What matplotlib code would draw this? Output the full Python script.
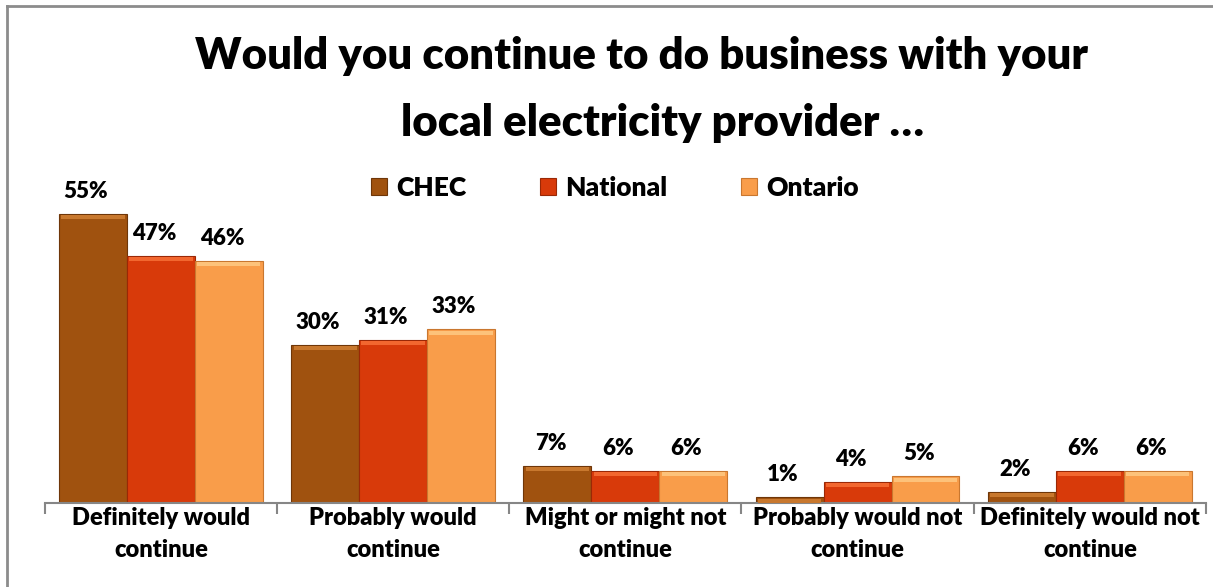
import numpy as np
import matplotlib
matplotlib.use("Agg")
import matplotlib.pyplot as plt
from matplotlib.patches import Rectangle
from matplotlib.lines import Line2D

plt.rcParams["font.family"] = ["Lato", "DejaVu Sans"]
plt.rcParams["font.weight"] = "heavy"

categorias = ["Definitely would\ncontinue", "Probably would\ncontinue",
              "Might or might not\ncontinue", "Probably would not\ncontinue",
              "Definitely would not\ncontinue"]
series = ["CHEC", "National", "Ontario"]
chec = [55, 30, 7, 1, 2]
national = [47, 31, 6, 4, 6]
ontario = [46, 33, 6, 5, 6]
valores = [chec, national, ontario]

cores = ["#A0520F", "#D83A0A", "#F99D4A"]
bordas = ["#6E3608", "#9A2806", "#C9772F"]
brilho = ["#C8782E", "#F2672F", "#FDC27A"]

fig = plt.figure(figsize=(12.13, 5.87), dpi=100)
ax = fig.add_axes([0.0369, 0.1436, 0.9573, 0.5366])

larg = 0.2925
x = np.arange(len(categorias)) + 0.5
for i, (nome, vals) in enumerate(zip(series, valores)):
    pos = x + (i - 1) * larg
    ax.bar(pos, vals, width=larg, color=cores[i], edgecolor=bordas[i],
           linewidth=0.8, label=nome, zorder=2)
    # faixa clara no topo para dar efeito de relevo
    for p, v in zip(pos, vals):
        h = min(v, 1.0)
        ax.add_patch(Rectangle((p - larg / 2 + 0.01, v - h), larg - 0.02, h * 0.8,
                               facecolor=brilho[i], edgecolor="none", zorder=3))
        ax.text(p - 0.03, v + 2.3, f"{v}%", ha="center", va="bottom", fontsize=16,
                fontweight="heavy", color="black")

ax.set_xlim(0, 5)
ax.set_ylim(0, 60)
ax.set_yticks([])
ax.set_xticks(np.arange(6))
ax.set_xticklabels([])
ax.set_xticks(x, minor=True)
ax.set_xticklabels(categorias, minor=True, fontsize=17, fontweight="heavy",
                   linespacing=1.55)
ax.tick_params(axis="x", which="major", length=8, width=1.5, color="#868686",
               direction="out")
ax.tick_params(axis="x", which="minor", length=0, pad=3)
for lado in ["top", "right", "left"]:
    ax.spines[lado].set_visible(False)
ax.spines["bottom"].set_color("#868686")
ax.spines["bottom"].set_linewidth(1.5)

fig.text(0.529, 0.905, "Would you continue to do business with your",
         ha="center", va="center", fontsize=31.5, fontweight="heavy")
fig.text(0.546, 0.79, "local electricity provider \u2026",
         ha="center", va="center", fontsize=31.5, fontweight="heavy")

fig.legend(loc="center", bbox_to_anchor=(0.507, 0.68), ncol=3, frameon=False,
           prop={"size": 19, "weight": "heavy"}, handlelength=0.6,
           handleheight=0.6, columnspacing=2.8, handletextpad=0.35)

# moldura externa do grafico
fig.add_artist(Line2D([7 / 1213, 7 / 1213], [0, 1 - 6 / 587], color="#8c8c8c",
                      linewidth=2, transform=fig.transFigure))
fig.add_artist(Line2D([7 / 1213, 1], [1 - 6 / 587, 1 - 6 / 587], color="#8c8c8c",
                      linewidth=2, transform=fig.transFigure))

fig.savefig("out.png", dpi=100)
